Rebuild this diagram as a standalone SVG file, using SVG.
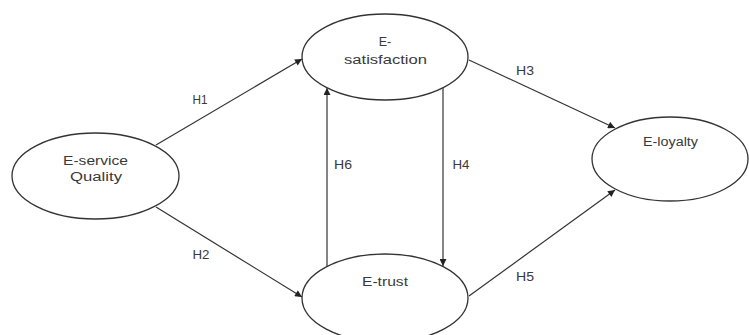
<svg xmlns="http://www.w3.org/2000/svg" width="749" height="335" viewBox="0 0 749 335">
<style>
.node{fill:#fff;stroke:#333;stroke-width:1.3}
.lbl{font-family:"Liberation Sans",Arial,sans-serif;font-size:12.5px;fill:#3a3a3a;text-anchor:middle}
.h{font-family:"Liberation Sans",Arial,sans-serif;font-size:12px;fill:#3a3a3a;text-anchor:middle}
.edge{stroke:#333;stroke-width:1.2;fill:none;marker-end:url(#arr)}
</style>
<defs>
<marker id="arr" viewBox="0 0 10 10" refX="10" refY="5" markerWidth="8" markerHeight="7" markerUnits="userSpaceOnUse" orient="auto">
<path d="M0,0 L10,5 L0,10 z" fill="#222"/>
</marker>
</defs>
<rect width="749" height="335" fill="#fff"/>
<g id="connectors">
<line class="edge" x1="156" y1="145" x2="302" y2="59"/>
<line class="edge" x1="156" y1="207" x2="302" y2="297"/>
<line class="edge" x1="469" y1="60" x2="615" y2="128"/>
<line class="edge" x1="469" y1="296" x2="615" y2="190"/>
<line class="edge" x1="327" y1="266" x2="327" y2="88"/>
<line class="edge" x1="443" y1="88" x2="443" y2="266"/>
<text class="h" x="200" y="104" textLength="15" lengthAdjust="spacingAndGlyphs">H1</text>
<text class="h" x="201" y="259" textLength="17" lengthAdjust="spacingAndGlyphs">H2</text>
<text class="h" x="525" y="75" textLength="18" lengthAdjust="spacingAndGlyphs">H3</text>
<text class="h" x="461" y="169" textLength="17" lengthAdjust="spacingAndGlyphs">H4</text>
<text class="h" x="525" y="281" textLength="18" lengthAdjust="spacingAndGlyphs">H5</text>
<text class="h" x="343" y="169" textLength="18" lengthAdjust="spacingAndGlyphs">H6</text>
</g>
<g id="e-service-quality">
<ellipse class="node" cx="95.5" cy="176" rx="83.5" ry="43"/>
<text class="lbl" x="95.5" y="165" textLength="65" lengthAdjust="spacingAndGlyphs">E-service</text>
<text class="lbl" x="96" y="181" textLength="52" lengthAdjust="spacingAndGlyphs">Quality</text>
</g>
<g id="e-satisfaction">
<ellipse class="node" cx="385" cy="57" rx="83" ry="43"/>
<text class="lbl" x="385" y="46">E-</text>
<text class="lbl" x="385.5" y="64" textLength="83" lengthAdjust="spacingAndGlyphs">satisfaction</text>
</g>
<g id="e-trust">
<ellipse class="node" cx="385" cy="298" rx="83" ry="44"/>
<text class="lbl" x="385" y="286" textLength="46" lengthAdjust="spacingAndGlyphs">E-trust</text>
</g>
<g id="e-loyalty">
<ellipse class="node" cx="670" cy="159" rx="78" ry="42"/>
<text class="lbl" x="670.5" y="146" textLength="55" lengthAdjust="spacingAndGlyphs">E-loyalty</text>
</g>
</svg>
